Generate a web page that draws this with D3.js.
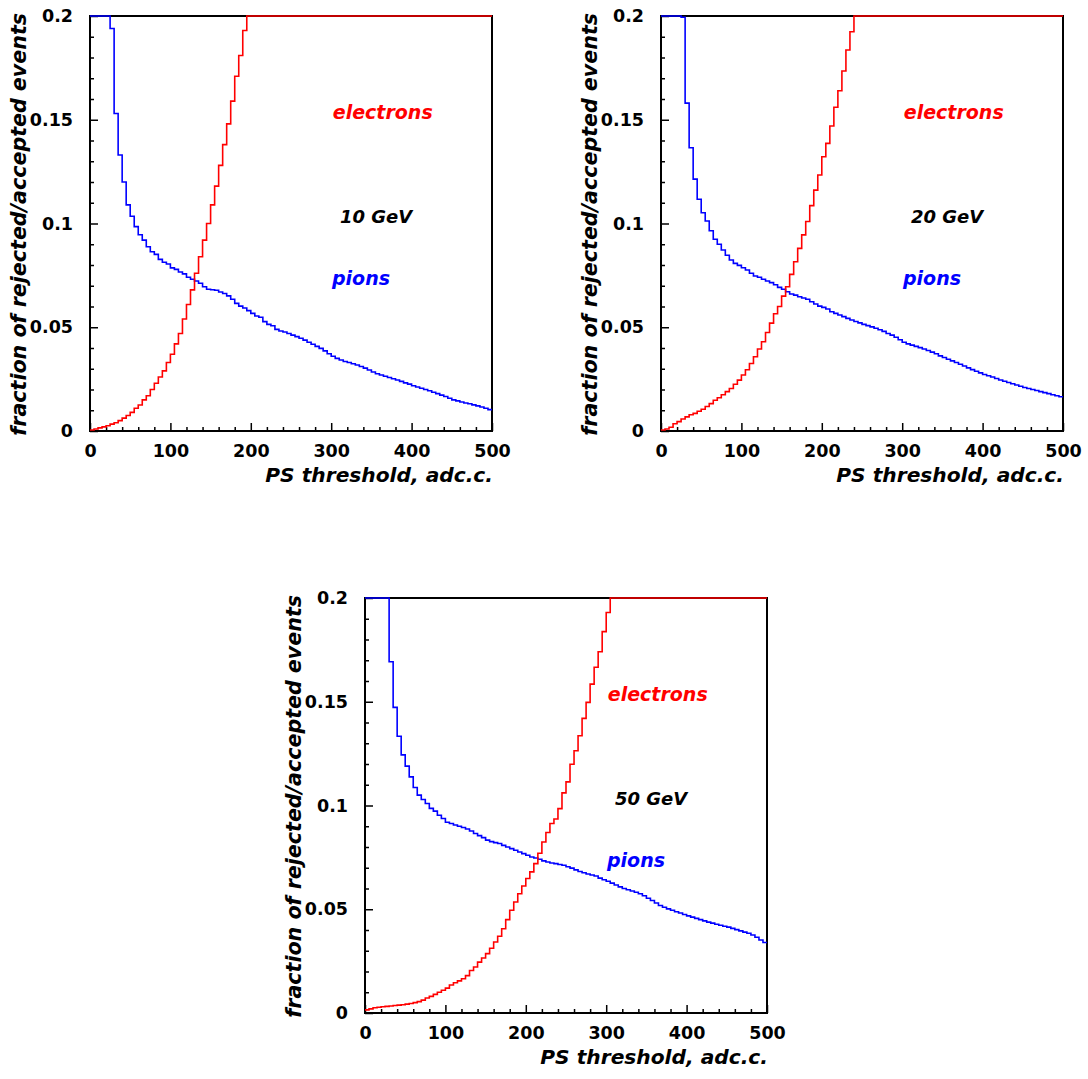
<!DOCTYPE html>
<html>
<head>
<meta charset="utf-8">
<script src="https://cdn.jsdelivr.net/npm/d3@7"></script>
<style>
  body { margin: 0; background: #fff; }
  svg { display: block; }
</style>
</head>
<body>
<svg id="chart" width="1088" height="1079"></svg>
<script>
// lower edges of the 100 threshold bins (5 adc.c. each)
const binEdges = d3.range(0, 500, 5);
const xTicks = [0, 100, 200, 300, 400, 500];
const yTicks = [0, 0.05, 0.1, 0.15, 0.2];
const energies = ['10 GeV', '20 GeV', '50 GeV'];

// values; 0.2 = off scale (drawn on the frame top)
const pions10 = [
  0.2, 0.2, 0.2, 0.2, 0.2, 0.194, 0.153, 0.133, 0.120, 0.109,
  0.1035, 0.0985, 0.0946, 0.092, 0.0888, 0.0864, 0.0851, 0.0827, 0.0813, 0.0805,
  0.0786, 0.0779, 0.0766, 0.0757, 0.0741, 0.0731, 0.0723, 0.0712, 0.0695, 0.0683,
  0.0681, 0.0678, 0.0670, 0.0663, 0.0651, 0.0635, 0.0615, 0.0602, 0.0593, 0.0580,
  0.0567, 0.0554, 0.0548, 0.0527, 0.0514, 0.0507, 0.0490, 0.0482, 0.0477, 0.0470,
  0.0462, 0.0455, 0.0447, 0.0438, 0.0428, 0.0418, 0.0408, 0.0398, 0.0386, 0.0372,
  0.0360, 0.0350, 0.0342, 0.0335, 0.0330, 0.0324, 0.0318, 0.0311, 0.0303, 0.0294,
  0.0284, 0.0276, 0.0270, 0.0264, 0.0258, 0.0252, 0.0246, 0.0239, 0.0232, 0.0226,
  0.0218, 0.0212, 0.0206, 0.0200, 0.0194, 0.0187, 0.0180, 0.0173, 0.0166, 0.0158,
  0.0150, 0.0145, 0.0140, 0.0135, 0.0131, 0.0126, 0.0121, 0.0116, 0.0110, 0.0103
];
const electrons10 = [
  0.0005, 0.001, 0.0015, 0.002, 0.0025, 0.0033, 0.004, 0.005, 0.0062, 0.0075,
  0.009, 0.011, 0.0125, 0.015, 0.017, 0.020, 0.023, 0.026, 0.029, 0.033,
  0.037, 0.042, 0.047, 0.054, 0.061, 0.068, 0.076, 0.084, 0.092, 0.100,
  0.109, 0.118, 0.128, 0.138, 0.148, 0.159, 0.171, 0.181, 0.193, 0.2,
  0.2, 0.2, 0.2, 0.2, 0.2, 0.2, 0.2, 0.2, 0.2, 0.2,
  0.2, 0.2, 0.2, 0.2, 0.2, 0.2, 0.2, 0.2, 0.2, 0.2,
  0.2, 0.2, 0.2, 0.2, 0.2, 0.2, 0.2, 0.2, 0.2, 0.2,
  0.2, 0.2, 0.2, 0.2, 0.2, 0.2, 0.2, 0.2, 0.2, 0.2,
  0.2, 0.2, 0.2, 0.2, 0.2, 0.2, 0.2, 0.2, 0.2, 0.2,
  0.2, 0.2, 0.2, 0.2, 0.2, 0.2, 0.2, 0.2, 0.2, 0.2
];
const pions20 = [
  0.2, 0.2, 0.2, 0.2, 0.2, 0.1994, 0.158, 0.1365, 0.1214, 0.1117,
  0.1052, 0.1012, 0.0965, 0.0924, 0.0900, 0.0872, 0.0847, 0.0824, 0.0808, 0.0798,
  0.0787, 0.0776, 0.0760, 0.0747, 0.0741, 0.0731, 0.0723, 0.0715, 0.0705, 0.0692,
  0.0683, 0.0671, 0.0660, 0.0655, 0.0647, 0.0641, 0.0635, 0.0623, 0.0612, 0.0602,
  0.0596, 0.0588, 0.0575, 0.0567, 0.0559, 0.0551, 0.0543, 0.0535, 0.0528, 0.0521,
  0.0514, 0.0508, 0.0502, 0.0495, 0.0488, 0.0480, 0.0470, 0.0462, 0.0452, 0.0440,
  0.0428, 0.0420, 0.0414, 0.0408, 0.0402, 0.0395, 0.0388, 0.0380, 0.0372, 0.0362,
  0.0354, 0.0346, 0.0338, 0.0330, 0.0322, 0.0313, 0.0304, 0.0296, 0.0288, 0.0280,
  0.0272, 0.0266, 0.0260, 0.0253, 0.0246, 0.0240, 0.0234, 0.0228, 0.0222, 0.0216,
  0.0210, 0.0205, 0.0200, 0.0195, 0.0190, 0.0185, 0.0180, 0.0175, 0.0170, 0.0165
];
const electrons20 = [
  0.0005, 0.001, 0.0018, 0.0035, 0.0045, 0.0058, 0.0068, 0.0078, 0.0085, 0.0095,
  0.0105, 0.0118, 0.0132, 0.0148, 0.016, 0.0175, 0.019, 0.0205, 0.0225, 0.0245,
  0.027, 0.0295, 0.0325, 0.0358, 0.0395, 0.043, 0.0475, 0.052, 0.0565, 0.060,
  0.065, 0.0695, 0.0755, 0.0816, 0.088, 0.0945, 0.101, 0.1086, 0.1161, 0.1234,
  0.1322, 0.1386, 0.147, 0.156, 0.164, 0.1735, 0.1836, 0.1924, 0.2, 0.2,
  0.2, 0.2, 0.2, 0.2, 0.2, 0.2, 0.2, 0.2, 0.2, 0.2,
  0.2, 0.2, 0.2, 0.2, 0.2, 0.2, 0.2, 0.2, 0.2, 0.2,
  0.2, 0.2, 0.2, 0.2, 0.2, 0.2, 0.2, 0.2, 0.2, 0.2,
  0.2, 0.2, 0.2, 0.2, 0.2, 0.2, 0.2, 0.2, 0.2, 0.2,
  0.2, 0.2, 0.2, 0.2, 0.2, 0.2, 0.2, 0.2, 0.2, 0.2
];
const pions50 = [
  0.2, 0.2, 0.2, 0.2, 0.2, 0.2, 0.1693, 0.1473, 0.1334, 0.1244,
  0.1190, 0.1138, 0.1087, 0.1050, 0.1029, 0.1010, 0.0986, 0.0973, 0.0953, 0.0937,
  0.0919, 0.0913, 0.0906, 0.0900, 0.0894, 0.0887, 0.0877, 0.0865, 0.0855, 0.0845,
  0.0833, 0.0826, 0.0821, 0.0817, 0.0808, 0.0800, 0.0792, 0.0784, 0.0776, 0.0768,
  0.0760, 0.0752, 0.0747, 0.0741, 0.0733, 0.0728, 0.0723, 0.0720, 0.0716, 0.0712,
  0.0705, 0.0698, 0.0690, 0.0682, 0.0676, 0.0670, 0.0665, 0.0660, 0.0650, 0.0642,
  0.0635, 0.0626, 0.0617, 0.0608, 0.0600, 0.0594, 0.0588, 0.0582, 0.0575, 0.0565,
  0.0553, 0.0542, 0.0530, 0.0518, 0.0510, 0.0502, 0.0495, 0.0488, 0.0482, 0.0475,
  0.0468, 0.0462, 0.0456, 0.0450, 0.0444, 0.0438, 0.0433, 0.0428, 0.0423, 0.0418,
  0.0414, 0.0408, 0.0402, 0.0396, 0.0390, 0.0384, 0.0376, 0.0365, 0.0352, 0.0340
];
const electrons50 = [
  0.0015, 0.002, 0.0025, 0.0028, 0.003, 0.0032, 0.0034, 0.0036, 0.0038, 0.004,
  0.0043, 0.0046, 0.005, 0.0055, 0.0062, 0.0072, 0.008, 0.009, 0.010, 0.011,
  0.012, 0.0135, 0.0146, 0.0155, 0.0165, 0.018, 0.0205, 0.0222, 0.0245, 0.0265,
  0.0286, 0.0312, 0.0342, 0.037, 0.0406, 0.045, 0.0495, 0.0535, 0.0575, 0.0612,
  0.0648, 0.068, 0.072, 0.077, 0.0824, 0.087, 0.0913, 0.0935, 0.0985, 0.1061,
  0.1114, 0.1199, 0.1264, 0.1336, 0.142, 0.1497, 0.1585, 0.1666, 0.1741, 0.1838,
  0.193, 0.2, 0.2, 0.2, 0.2, 0.2, 0.2, 0.2, 0.2, 0.2,
  0.2, 0.2, 0.2, 0.2, 0.2, 0.2, 0.2, 0.2, 0.2, 0.2,
  0.2, 0.2, 0.2, 0.2, 0.2, 0.2, 0.2, 0.2, 0.2, 0.2,
  0.2, 0.2, 0.2, 0.2, 0.2, 0.2, 0.2, 0.2, 0.2, 0.2
];

const fontFamily = "'DejaVu Sans', sans-serif";
const svg = d3.select('#chart');
svg.append('rect').attr('width', 1088).attr('height', 1079).attr('fill', '#fff');

function drawPanel(settings) {
    const w = 402, h = 415;
    const x = d3.scaleLinear().domain([0, 500]).range([0, w]);
    const y = d3.scaleLinear().domain([0, 0.2]).range([h, 0]);

    const g = svg.append('g')
        .attr('transform', 'translate(' + settings.left + ',' + settings.top + ')');

    // minor ticks
    const xMinor = d3.range(0, 501, 20).filter(v => v % 100 !== 0);
    const yMinor = d3.range(0, 21, 1).map(v => v / 100).filter(v => Math.round(v * 100) % 5 !== 0);

    g.append('g')
        .attr('transform', 'translate(0,' + h + ')')
        .call(d3.axisBottom(x).tickValues(xMinor).tickSize(-4).tickFormat(''))
        .call(a => a.select('.domain').remove());
    g.append('g')
        .call(d3.axisLeft(y).tickValues(yMinor).tickSize(-4).tickFormat(''))
        .call(a => a.select('.domain').remove());

    // major ticks + labels
    const xAxis = g.append('g')
        .attr('transform', 'translate(0,' + h + ')')
        .call(d3.axisBottom(x).tickValues(xTicks).tickSize(-8).tickPadding(13.5).tickFormat(d3.format('d')));
    const yAxis = g.append('g')
        .call(d3.axisLeft(y).tickValues(yTicks).tickSize(-8).tickPadding(17).tickFormat(d => String(d)));

    [xAxis, yAxis].forEach(a => {
        a.select('.domain').remove();
        a.selectAll('text')
            .attr('fill', '#000')
            .attr('font-family', fontFamily)
            .attr('font-weight', 'bold')
            .attr('font-size', 17.5);
    });
    g.selectAll('.tick line').attr('stroke', '#000').attr('stroke-width', 1.5);

    // frame
    g.append('rect')
        .attr('width', w)
        .attr('height', h)
        .attr('fill', 'none')
        .attr('stroke', '#000')
        .attr('stroke-width', 2);

    // histograms
    const line = d3.line()
        .x(d => x(d[0]))
        .y(d => y(Math.min(d[1], 0.2)))
        .curve(d3.curveStepAfter);

    [[settings.pions, '#0000ff'], [settings.electrons, '#ff0000']].forEach(([values, color]) => {
        const pts = binEdges.map((e, i) => [e, values[i]]);
        pts.push([500, values[values.length - 1]]);
        g.append('path')
            .attr('d', line(pts))
            .attr('fill', 'none')
            .attr('stroke', color)
            .attr('stroke-width', 1.6);
    });

    // labels
    const label = (txt, xv, yv, color, size) => g.append('text')
        .text(txt)
        .attr('x', x(xv))
        .attr('y', y(yv))
        .attr('fill', color)
        .attr('font-family', fontFamily)
        .attr('font-weight', 'bold')
        .attr('font-style', 'italic')
        .attr('font-size', size);

    label('electrons', 302, 0.1504, '#ff0000', 19);
    label(settings.energy, 311, 0.1003, '#000', 18);
    label('pions', 301, 0.0704, '#0000ff', 19);

    // axis titles
    g.append('text')
        .text('PS threshold, adc.c.')
        .attr('x', w + 1)
        .attr('y', h + 51)
        .attr('text-anchor', 'end')
        .attr('font-family', fontFamily)
        .attr('font-weight', 'bold')
        .attr('font-style', 'italic')
        .attr('font-size', 20.2);

    g.append('text')
        .text('fraction of rejected/accepted events')
        .attr('transform', 'translate(-64,-3) rotate(-90)')
        .attr('text-anchor', 'end')
        .attr('font-family', fontFamily)
        .attr('font-weight', 'bold')
        .attr('font-style', 'italic')
        .attr('font-size', 20.6);
}

drawPanel({ left: 90, top: 16, pions: pions10, electrons: electrons10, energy: energies[0] });
drawPanel({ left: 661, top: 16, pions: pions20, electrons: electrons20, energy: energies[1] });
drawPanel({ left: 365, top: 598, pions: pions50, electrons: electrons50, energy: energies[2] });
</script>
</body>
</html>
